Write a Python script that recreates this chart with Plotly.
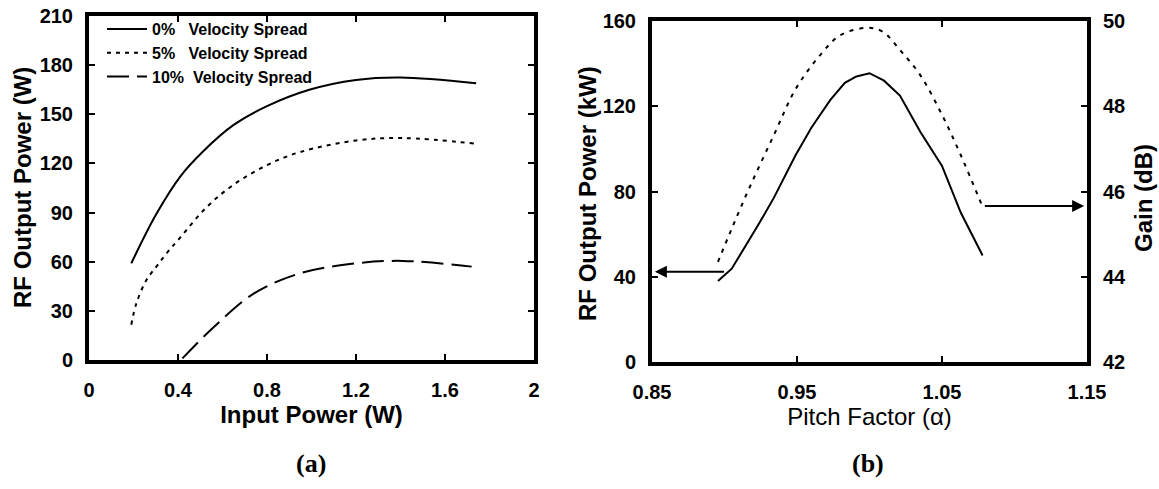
import plotly.graph_objects as go

# ---------------- Panel (a) data ----------------
pin_0 = [0.19, 0.30, 0.41, 0.51, 0.65, 0.80, 0.99, 1.20, 1.40, 1.74]
pout_0 = [59, 88.5, 112, 127, 143.5, 155, 165, 171, 172.5, 169]

pin_5 = [0.19, 0.213, 0.258, 0.303, 0.348, 0.407, 0.53, 0.65, 0.80, 0.95, 1.20, 1.41, 1.74]
pout_5 = [21.5, 34.6, 48.8, 57, 65, 74.3, 93.5, 107, 119, 127, 134, 135.5, 132]

pin_10 = [0.42, 0.56, 0.74, 0.95, 1.20, 1.41, 1.72]
pout_10 = [1, 20, 40.5, 53, 59, 60.5, 57]

legend_names = ["0%\u00a0\u00a0\u00a0Velocity Spread",
                "5%\u00a0\u00a0\u00a0Velocity Spread",
                "10%\u00a0\u00a0Velocity Spread"]

# ---------------- Panel (b) data ----------------
alpha_p = [0.8955, 0.905, 0.923, 0.934, 0.949, 0.960, 0.973, 0.983, 0.991,
           1.000, 1.010, 1.021, 1.035, 1.050, 1.063, 1.078]
power_kw = [38, 43.8, 64, 77, 97, 110, 123, 131, 134, 135.5, 132, 125, 108,
            92, 70, 50]

alpha_g = [0.8955, 0.905, 0.918, 0.934, 0.949, 0.965, 0.980, 0.999, 1.009,
           1.022, 1.035, 1.050, 1.063, 1.077]
gain_db = [44.35, 45.13, 46.15, 47.32, 48.4, 49.16, 49.67, 49.84, 49.75,
           49.28, 48.73, 47.8, 46.85, 45.72]

# arrows (tail -> head), data coords
arrow_left = dict(x_tail=0.9007, x_head=0.852, y=42.3)     # left axis (kW)
arrow_right = dict(x_tail=1.0785, x_head=1.148, y=45.66)   # right axis (dB)

# tick labels
xa_ticks = [0, 0.4, 0.8, 1.2, 1.6, 2]
ya_ticks = [0, 30, 60, 90, 120, 150, 180, 210]
xb_ticks = [0.85, 0.95, 1.05, 1.15]
xb_ticktext = ["0.85", "0.95", "1.05", "1.15"]
yb_ticks = [0, 40, 80, 120, 160]
yb2_ticks = [42, 44, 46, 48, 50]

W, H = 1159, 489
SANS = "Arial, Liberation Sans, Helvetica, sans-serif"
SERIF = "Times New Roman, Liberation Serif, serif"
tickfont = dict(family=SANS, size=20, color="black", weight="bold")
titlefont_b = dict(family=SANS, size=24, color="black", weight="bold")
titlefont_r = dict(family=SANS, size=24, color="black")

fig = go.Figure()

fig.add_trace(go.Scatter(x=pin_0, y=pout_0, mode="lines", name=legend_names[0],
                         line=dict(color="black", width=2, shape="spline"),
                         xaxis="x", yaxis="y"))
fig.add_trace(go.Scatter(x=pin_5, y=pout_5, mode="lines", name=legend_names[1],
                         line=dict(color="black", width=2, dash="4px,5px", shape="spline"),
                         xaxis="x", yaxis="y"))
fig.add_trace(go.Scatter(x=pin_10, y=pout_10, mode="lines", name=legend_names[2],
                         line=dict(color="black", width=2, dash="22px,8px", shape="spline"),
                         xaxis="x", yaxis="y"))

fig.add_trace(go.Scatter(x=alpha_p, y=power_kw, mode="lines", showlegend=False,
                         name="RF Output Power",
                         line=dict(color="black", width=2),
                         xaxis="x2", yaxis="y2"))
fig.add_trace(go.Scatter(x=alpha_g, y=gain_db, mode="lines", showlegend=False,
                         name="Gain",
                         line=dict(color="black", width=2, dash="4px,6px", shape="spline"),
                         xaxis="x2", yaxis="y3"))

# domains from pixel geometry
def px_x(a, b):
    return [a / W, b / W]

def px_y(top, bottom):
    return [(H - bottom) / H, (H - top) / H]

axis_common = dict(showline=True, linewidth=4, linecolor="black", ticks="inside",
                   ticklen=6, tickwidth=1.5, tickcolor="black", showgrid=False,
                   zeroline=False, tickfont=tickfont, automargin=False)

fig.update_layout(
    width=W, height=H,
    margin=dict(l=0, r=0, t=0, b=0, autoexpand=False),
    paper_bgcolor="white", plot_bgcolor="white",
    showlegend=True,
    legend=dict(x=102 / W, y=1 - 12 / H, xanchor="left", yanchor="top",
                bgcolor="rgba(0,0,0,0)", borderwidth=0,
                font=dict(family=SANS, size=16, color="black", weight="bold"),
                tracegroupgap=0, itemwidth=40),
    xaxis=dict(domain=px_x(89, 534), range=[0, 2], tickvals=xa_ticks,
               mirror="ticks", anchor="y", ticklabelstandoff=9,
               title=dict(text="Input Power (W)", standoff=2, font=titlefont_b),
               **axis_common),
    yaxis=dict(domain=px_y(16, 360), range=[0, 210], tickvals=ya_ticks,
               mirror="ticks", anchor="x", ticklabelstandoff=8,
               **axis_common),
    xaxis2=dict(domain=px_x(652, 1087), range=[0.85, 1.15], tickvals=xb_ticks,
                ticktext=xb_ticktext, mirror="ticks", anchor="y2", ticklabelstandoff=9,
                title=dict(text="Pitch Factor (\u03b1)", standoff=2, font=titlefont_r),
                **axis_common),
    yaxis2=dict(domain=px_y(21, 362), range=[0, 160], tickvals=yb_ticks,
                anchor="x2", side="left", ticklabelstandoff=8,
                **axis_common),
    yaxis3=dict(domain=px_y(21, 362), range=[42, 50], tickvals=yb2_ticks,
                anchor="x2", overlaying="y2", side="right", ticklabelstandoff=8,
                **axis_common),
)

# y-axis titles
def vtitle(xpx, ypx, text):
    fig.add_annotation(x=xpx / W, y=1 - ypx / H, xref="paper", yref="paper",
                       xanchor="center", yanchor="middle",
                       text=text, textangle=-90, showarrow=False, font=titlefont_b)

vtitle(23, 188, "RF Output Power (W)")
vtitle(587, 194, "RF Output Power (kW)")
vtitle(1143, 198, "Gain (dB)")

fig.add_annotation(x=arrow_left["x_head"], y=arrow_left["y"],
                   ax=arrow_left["x_tail"], ay=arrow_left["y"],
                   xref="x2", yref="y2", axref="x2", ayref="y2",
                   showarrow=True, arrowhead=2, arrowsize=1.2, arrowwidth=2,
                   arrowcolor="black", text="")
fig.add_annotation(x=arrow_right["x_head"], y=arrow_right["y"],
                   ax=arrow_right["x_tail"], ay=arrow_right["y"],
                   xref="x2", yref="y3", axref="x2", ayref="y3",
                   showarrow=True, arrowhead=2, arrowsize=1.2, arrowwidth=2,
                   arrowcolor="black", text="")

for xpx, lab in [(311, "(a)"), (868, "(b)")]:
    fig.add_annotation(x=xpx / W, y=1 - 463 / H, xref="paper", yref="paper",
                       xanchor="center", yanchor="middle",
                       text=lab, showarrow=False,
                       font=dict(family=SERIF, size=26, color="black", weight="bold"))

fig.write_html("out.html")
